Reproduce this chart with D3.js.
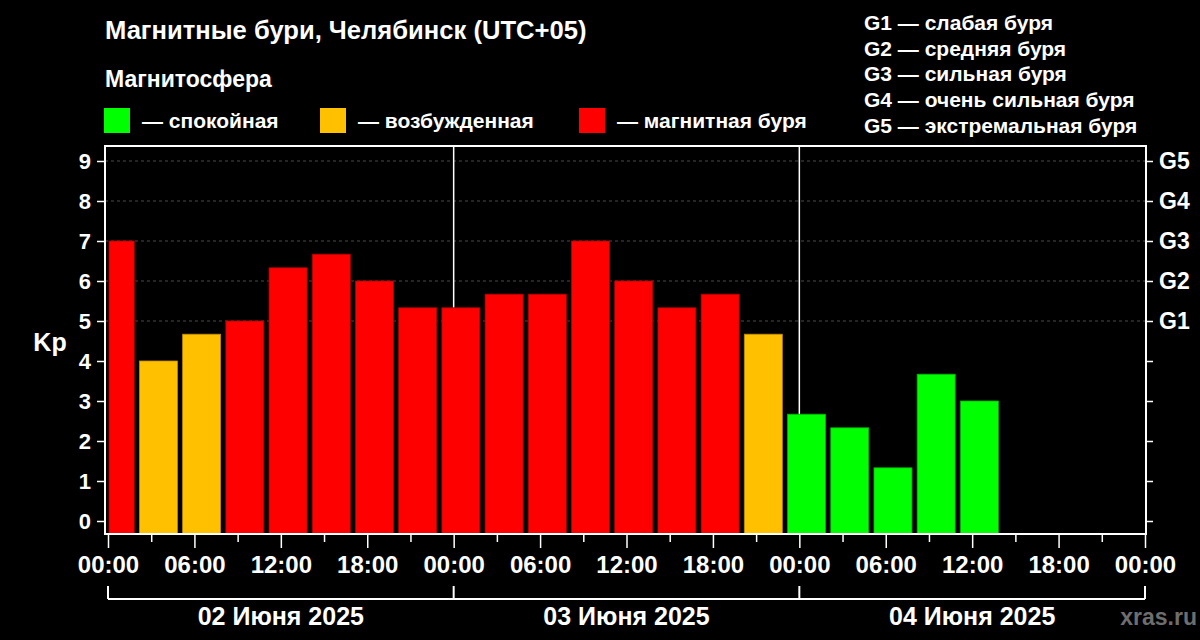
<!DOCTYPE html>
<html><head><meta charset="utf-8">
<script src="https://cdn.jsdelivr.net/npm/d3@7"></script>
<style>
html,body{margin:0;padding:0;background:#000;}
svg{display:block;font-family:"Liberation Sans",Arial,sans-serif;font-weight:bold;}
</style></head><body>
<svg id="chart" width="1200" height="640"></svg>
<script>
// ---- data ----
const binStarts = [
  "2025-06-01T23:00","2025-06-02T02:00","2025-06-02T05:00","2025-06-02T08:00",
  "2025-06-02T11:00","2025-06-02T14:00","2025-06-02T17:00","2025-06-02T20:00",
  "2025-06-02T23:00","2025-06-03T02:00","2025-06-03T05:00","2025-06-03T08:00",
  "2025-06-03T11:00","2025-06-03T14:00","2025-06-03T17:00","2025-06-03T20:00",
  "2025-06-03T23:00","2025-06-04T02:00","2025-06-04T05:00","2025-06-04T08:00",
  "2025-06-04T11:00"
];
const kpValues = [7, 4, 4.67, 5, 6.33, 6.67, 6, 5.33,
                  5.33, 5.67, 5.67, 7, 6, 5.33, 5.67, 4.67,
                  2.67, 2.33, 1.33, 3.67, 3];
const states = ["storm","active","active","storm","storm","storm","storm","storm",
                "storm","storm","storm","storm","storm","storm","storm","active",
                "quiet","quiet","quiet","quiet","quiet"];
const dayLabels = ["02 Июня 2025","03 Июня 2025","04 Июня 2025"];
const dayStarts = ["2025-06-02T00:00","2025-06-03T00:00","2025-06-04T00:00","2025-06-05T00:00"];
const kpTicks = [0,1,2,3,4,5,6,7,8,9];
const gLabels = ["G1","G2","G3","G4","G5"];
const legendStates = ["quiet","active","storm"];
const legendLabels = ["— спокойная","— возбужденная","— магнитная буря"];
const gLegend = ["G1 — слабая буря","G2 — средняя буря","G3 — сильная буря","G4 — очень сильная буря","G5 — экстремальная буря"];

const fill = {quiet:"#00ff00", active:"#ffc000", storm:"#ff0000"};
const edge = {quiet:"#00b000", active:"#c08a00", storm:"#b00000"};

const parse = d3.utcParse("%Y-%m-%dT%H:%M");
const svg = d3.select("#chart");
svg.append("rect").attr("width",1200).attr("height",640).attr("fill","#000");

const t0 = parse(dayStarts[0]), t1 = parse(dayStarts[3]);
const x = d3.scaleUtc().domain([t0,t1]).range([108,1145]);
const y = d3.scaleLinear().domain([-0.325, 9.375]).range([534,146]);
const frame = {l:105, r:1146, t:146, b:534};

// grid (G levels)
svg.append("g").selectAll("line").data(kpTicks.filter(d=>d>=5)).join("line")
  .attr("x1",frame.l).attr("x2",frame.r).attr("y1",d=>y(d)).attr("y2",d=>y(d))
  .attr("stroke","#4a4a4a").attr("stroke-width",1.2).attr("stroke-dasharray","3,3");

// day separators
svg.append("g").selectAll("line").data(dayStarts.slice(1,3)).join("line")
  .attr("x1",d=>x(parse(d))).attr("x2",d=>x(parse(d)))
  .attr("y1",frame.t).attr("y2",frame.b)
  .attr("stroke","#fff").attr("stroke-width",1.5);

// bars
const gap = 2.6;
const bars = binStarts.map((s,i)=>({start:parse(s), end:d3.utcHour.offset(parse(s),3), kp:kpValues[i], st:states[i]}));
svg.append("g").selectAll("rect").data(bars).join("rect")
  .attr("x",d=>Math.max(x(d.start)+gap, x(t0)+1))
  .attr("width",d=>x(d.end)-gap-Math.max(x(d.start)+gap, x(t0)+1))
  .attr("y",d=>y(d.kp))
  .attr("height",d=>frame.b-y(d.kp))
  .attr("fill",d=>fill[d.st]).attr("stroke",d=>edge[d.st]).attr("stroke-width",0.8);

// frame
svg.append("rect").attr("x",frame.l).attr("y",frame.t)
  .attr("width",frame.r-frame.l).attr("height",frame.b-frame.t)
  .attr("fill","none").attr("stroke","#fff").attr("stroke-width",2);

// left axis
const ax = svg.append("g").attr("transform",`translate(${frame.l-1},0)`)
  .call(d3.axisLeft(y).tickValues(kpTicks).tickSize(7).tickPadding(6).tickFormat(d3.format("d")));
ax.select(".domain").remove();
ax.selectAll("line").attr("stroke","#fff").attr("stroke-width",1.5);
ax.selectAll("text").attr("fill","#fff").attr("font-size",22).attr("font-family","Liberation Sans, Arial").attr("font-weight","bold");

// right axis
const ar = svg.append("g").attr("transform",`translate(${frame.r},0)`)
  .call(d3.axisRight(y).tickValues(kpTicks).tickSize(7).tickPadding(6)
        .tickFormat(d=> d>=5 ? gLabels[d-5] : ""));
ar.select(".domain").remove();
ar.selectAll("line").attr("stroke","#fff").attr("stroke-width",1.5);
ar.selectAll("text").attr("fill","#fff").attr("font-size",23).attr("font-family","Liberation Sans, Arial").attr("font-weight","bold");

// Kp label
svg.append("text").attr("x",50).attr("y",351).attr("text-anchor","middle")
  .attr("fill","#fff").attr("font-size",25).text("Kp");

// bottom axis
const hourTicks = d3.utcHours(t0, d3.utcMinute.offset(t1,1), 3);
const fmt = d3.utcFormat("%H:%M");
const ab = svg.append("g").attr("transform",`translate(0,${frame.b+1})`)
  .call(d3.axisBottom(x).tickValues(hourTicks).tickSize(13)
        .tickFormat(d=> d.getUTCHours()%6===0 ? fmt(d) : ""));
ab.select(".domain").remove();
ab.selectAll(".tick line").attr("stroke","#fff").attr("stroke-width",1.5)
  .attr("y2",d=> d.getUTCHours()%6===0 ? 13 : 7);
ab.selectAll(".tick text").attr("fill","#fff").attr("font-size",24)
  .attr("font-family","Liberation Sans, Arial").attr("font-weight","bold")
  .attr("y",38).attr("dy",0);

// date bracket
const br = svg.append("g");
br.append("line").attr("x1",x(t0)).attr("x2",x(t1)).attr("y1",599).attr("y2",599)
  .attr("stroke","#fff").attr("stroke-width",2);
br.selectAll("line.v").data(dayStarts).join("line").attr("class","v")
  .attr("x1",d=>x(parse(d))).attr("x2",d=>x(parse(d))).attr("y1",586).attr("y2",599)
  .attr("stroke","#fff").attr("stroke-width",2);
br.selectAll("text").data(dayLabels).join("text")
  .attr("x",(d,i)=>(x(parse(dayStarts[i]))+x(parse(dayStarts[i+1])))/2)
  .attr("y",625).attr("text-anchor","middle").attr("fill","#fff").attr("font-size",25)
  .text(d=>d);

// title & legends
svg.append("text").attr("x",105).attr("y",39).attr("fill","#fff").attr("font-size",25.6)
  .text("Магнитные бури, Челябинск (UTC+05)");
svg.append("text").attr("x",105).attr("y",87).attr("fill","#fff").attr("font-size",23)
  .text("Магнитосфера");
const legX = [104, 320, 579];
const lg = svg.append("g").selectAll("g").data(legendStates).join("g")
  .attr("transform",(d,i)=>`translate(${legX[i]},108)`);
lg.append("rect").attr("width",26).attr("height",25).attr("fill",d=>fill[d]);
lg.append("text").attr("x",38).attr("y",20).attr("fill","#fff").attr("font-size",21)
  .text((d,i)=>legendLabels[i]);

svg.append("g").selectAll("text").data(gLegend).join("text")
  .attr("x",864).attr("y",(d,i)=>30+i*25.7).attr("fill","#fff").attr("font-size",21)
  .text(d=>d);

svg.append("text").attr("x",1197).attr("y",625).attr("text-anchor","end")
  .attr("fill","#6e6e6e").attr("font-size",23).text("xras.ru");
</script>
</body></html>
